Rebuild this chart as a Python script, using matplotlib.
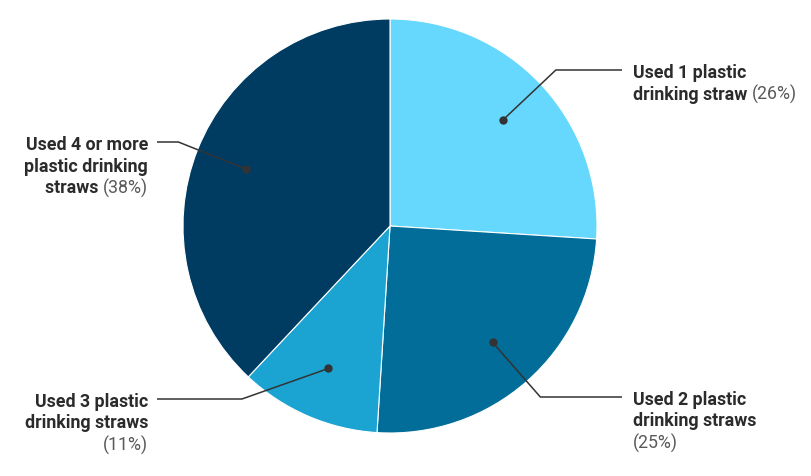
import matplotlib
matplotlib.use("Agg")
import matplotlib.pyplot as plt
import numpy as np

labels = [
    ["Used 1 plastic", "drinking straw"],
    ["Used 2 plastic", "drinking straws"],
    ["Used 3 plastic", "drinking straws"],
    ["Used 4 or more", "plastic drinking", "straws"],
]
shares = [26, 25, 11, 38]
colors = ["#66d7fd", "#016d98", "#1ba3d1", "#003c62"]

W, H = 812, 477
cx, cy, R = 390, 250, 207
# vertical position (px from top) of each leader's horizontal segment
leader_y = [71, 398, 400, 143]
# where the trailing percentage goes: same line or on its own line
pct_newline = [False, True, True, False]

plt.rcParams["font.family"] = ["Roboto", "DejaVu Sans"]

fig = plt.figure(figsize=(W / 100, H / 100), dpi=100)
ax = fig.add_axes([0, 0, 1, 1])

wedges, _ = ax.pie(shares, colors=colors, startangle=90, counterclock=False,
                   center=(cx, cy), radius=R, frame=True,
                   wedgeprops=dict(edgecolor="white", linewidth=0.8))
ax.set_xlim(0, W)
ax.set_ylim(0, H)
ax.set_aspect("equal")
ax.axis("off")

renderer = fig.canvas.get_renderer()
bold_kw = dict(fontsize=12.8, fontweight="bold", color="#2b2b2b")
pct_kw = dict(fontsize=12.8, fontweight="normal", color="#5a5a5a")
line_h = 21.5


def text_width(s, kw):
    t = ax.text(0, 0, s, **kw)
    w = t.get_window_extent(renderer).width
    t.remove()
    return w


for i, w in enumerate(wedges):
    mid = np.deg2rad((w.theta1 + w.theta2) / 2)
    dx, dy = np.cos(mid), np.sin(mid)
    px, py = cx + 0.75 * R * dx, cy + 0.75 * R * dy
    ly = H - leader_y[i]
    r2 = 1.1 * R
    ex = cx + np.sign(dx) * np.sqrt(max(r2 ** 2 - (ly - cy) ** 2, 0))
    right = dx > 0
    hx = 622 if right else 157
    tx = 633 if right else 148
    ax.plot([px, ex, hx], [py, ly, ly], color="#333333", lw=1.1,
            solid_capstyle="butt", zorder=3)
    ax.plot(px, py, "o", color="#333333", ms=5, zorder=4)

    lines = [[(s, bold_kw)] for s in labels[i]]
    pct = f"({shares[i]}%)"
    if pct_newline[i]:
        lines.append([(pct, pct_kw)])
    else:
        lines[-1] = [(labels[i][-1] + " ", bold_kw), (pct, pct_kw)]

    for k, segs in enumerate(lines):
        y = ly - 2 - k * line_h
        widths = [text_width(s, kw) for s, kw in segs]
        x = tx if right else tx - sum(widths)
        for (s, kw), wd in zip(segs, widths):
            ax.text(x, y, s, ha="left", va="center", **kw)
            x += wd

fig.savefig("out.png", dpi=100)
